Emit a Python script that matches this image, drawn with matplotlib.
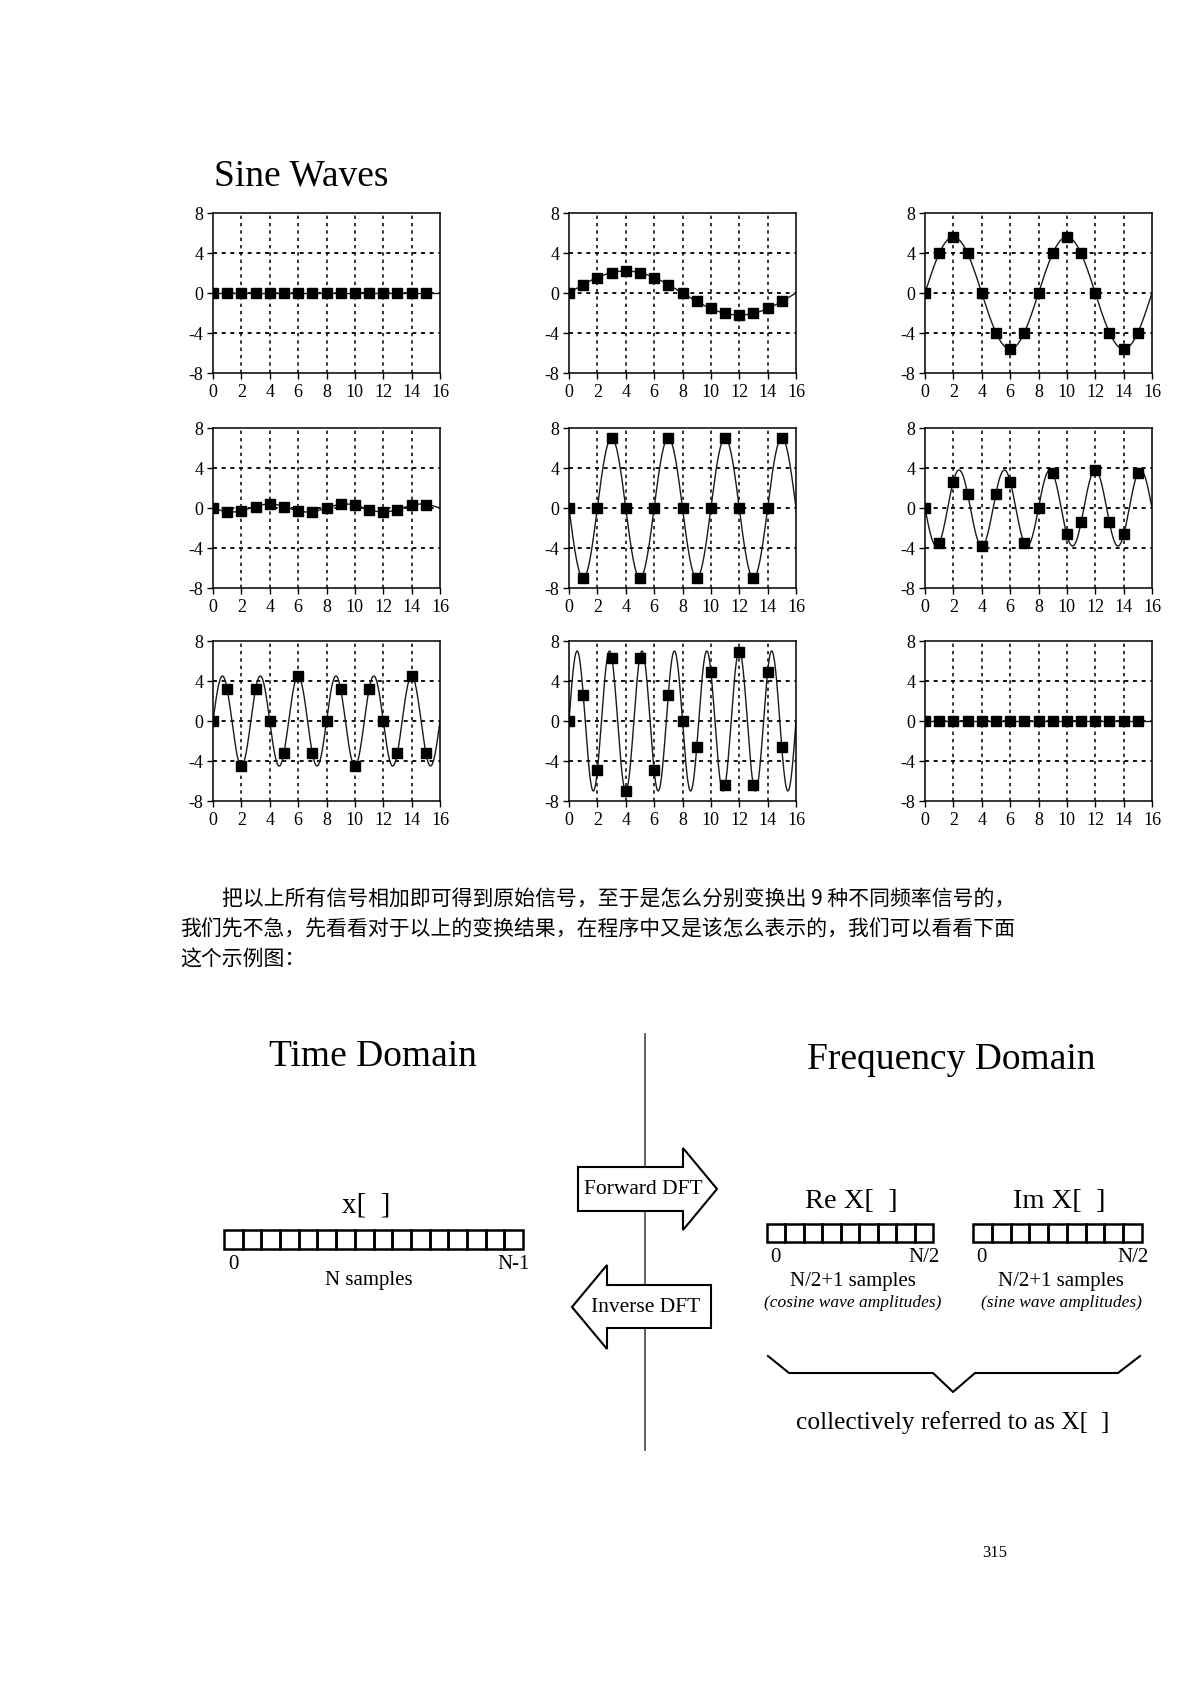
import matplotlib
matplotlib.use('Agg')

import matplotlib.pyplot as plt
import numpy as np
from matplotlib.patches import Rectangle, Polygon

# -------------------
# Data read from the page
# -------------------
n_idx = list(range(16))                      # sample index 0..15
cycles = [0, 1, 2, 3, 4, 5, 6, 7, 8]         # cycles per 16 samples in each panel
amps = [0, 2.2, 5.6, -0.4, -7.0, -3.8, 4.5, 7.0, 0]   # amplitude (sign = phase)

s1 = [0] * 16
s2 = [0, 0.8, 1.5, 2.0, 2.2, 2.0, 1.5, 0.8, 0, -0.8, -1.5, -2.0, -2.2, -2.0, -1.5, -0.8]
s3 = [0, 4.0, 5.6, 4.0, 0, -4.0, -5.6, -4.0, 0, 4.0, 5.6, 4.0, 0, -4.0, -5.6, -4.0]
s4 = [0, -0.4, -0.3, 0.1, 0.4, 0.1, -0.3, -0.4, 0, 0.4, 0.3, -0.2, -0.4, -0.2, 0.3, 0.3]
s5 = [0, -7.0, 0, 7.0, 0, -7.0, 0, 7.0, 0, -7.0, 0, 7.0, 0, -7.0, 0, 7.0]
s6 = [0, -3.5, 2.6, 1.4, -3.8, 1.4, 2.6, -3.5, 0, 3.5, -2.6, -1.4, 3.8, -1.4, -2.6, 3.5]
s7 = [0, 3.2, -4.5, 3.2, 0, -3.2, 4.5, -3.2, 0, 3.2, -4.5, 3.2, 0, -3.2, 4.5, -3.2]
s8 = [0, 2.6, -4.9, 6.3, -7.0, 6.3, -4.9, 2.6, 0, -2.6, 4.9, -6.4, 6.9, -6.4, 4.9, -2.6]
s9 = [0] * 16
samples = [s1, s2, s3, s4, s5, s6, s7, s8, s9]

xticks = [0, 2, 4, 6, 8, 10, 12, 14, 16]
yticks = [-8, -4, 0, 4, 8]

body_lines = [
    "把以上所有信号相加即可得到原始信号，至于是怎么分别变换出 9 种不同频率信号的，",
    "我们先不急，先看看对于以上的变换结果，在程序中又是该怎么表示的，我们可以看看下面",
    "这个示例图：",
]

n_time_cells = 16
n_freq_cells = 9

# -------------------
# Figure in pixel units
# -------------------
W, H = 1190, 1683
fig = plt.figure(figsize=(W / 100, H / 100), dpi=100)
fig.patch.set_facecolor('white')
SERIF = ['Liberation Serif', 'DejaVu Serif']


def px_axes(left, top, width, height):
    return fig.add_axes([left / W, 1 - (top + height) / H, width / W, height / H])


col_left = [213, 569, 925]
row_top = [214, 429, 642]
ax_w, ax_h = 227, 160

t_fine = np.linspace(0, 16, 800)
for i in range(9):
    r, c = divmod(i, 3)
    ax = px_axes(col_left[c], row_top[r], ax_w, ax_h)
    ax.set_xlim(0, 16)
    ax.set_ylim(-8, 8)
    for gx in xticks[1:-1]:
        ax.axvline(gx, color='black', lw=1.1, ls=(0, (2.2, 2.6)), zorder=1)
    for gy in yticks[1:-1]:
        ax.axhline(gy, color='black', lw=1.3, ls=(0, (2.2, 2.6)), zorder=1)
    curve = amps[i] * np.sin(2 * np.pi * cycles[i] * t_fine / 16)
    ax.plot(t_fine, curve, color='#1a1a1a', lw=1.0, zorder=2)
    ax.plot(n_idx, samples[i], ls='none', marker='s', ms=7.8,
            color='black', zorder=3)
    ax.set_xticks(xticks)
    ax.set_yticks(yticks)
    ax.set_xticklabels([str(v) for v in xticks], family=SERIF, fontsize=13)
    ax.set_yticklabels([str(v) for v in yticks], family=SERIF, fontsize=13)
    ax.tick_params(direction='out', length=4, width=1, pad=3)
    for sp in ax.spines.values():
        sp.set_linewidth(1.1)

# overlay in page pixels
ov = fig.add_axes([0, 0, 1, 1])
ov.set_xlim(0, W)
ov.set_ylim(H, 0)
ov.axis('off')

ov.text(214, 176, "Sine Waves", family=SERIF, fontsize=27, ha='left', va='center')

# body text
body_x = [222, 180, 180]
body_y = [900, 930, 959]
for x, y, line in zip(body_x, body_y, body_lines):
    ov.text(x, y, line, family=['Noto Sans CJK SC', 'DejaVu Sans'],
            fontsize=15, ha='left', va='center')

# divider
ov.plot([645, 645], [1035, 1451], color='#555555', lw=1.3)

ov.text(373, 1057, "Time Domain", family=SERIF, fontsize=27, ha='center', va='center')
ov.text(951, 1060, "Frequency Domain", family=SERIF, fontsize=27, ha='center', va='center')


def cell_row(left, right, top, bottom, n):
    w = (right - left) / n
    for k in range(n):
        ov.add_patch(Rectangle((left + k * w, top), w, bottom - top,
                               fill=False, ec='black', lw=1.8))


# time domain array
cell_row(224, 523, 1231, 1250, n_time_cells)
ov.text(366, 1206, "x[  ]", family=SERIF, fontsize=21, ha='center', va='center')
ov.text(228, 1265, "0", family=SERIF, fontsize=15, ha='left', va='center')
ov.text(530, 1265, "N-1", family=SERIF, fontsize=15, ha='right', va='center')
ov.text(369, 1281, "N samples", family=SERIF, fontsize=15, ha='center', va='center')

# frequency domain arrays
for left, right, cx, name, sub in [
        (767, 933, 851, "Re X[  ]", "(cosine wave amplitudes)"),
        (973, 1142, 1059, "Im X[  ]", "(sine wave amplitudes)")]:
    cell_row(left, right, 1225, 1243, n_freq_cells)
    ov.text(cx, 1202, name, family=SERIF, fontsize=20.5, ha='center', va='center')
    ov.text(left + 3, 1258, "0", family=SERIF, fontsize=15, ha='left', va='center')
    ov.text(right + 7, 1258, "N/2", family=SERIF, fontsize=15, ha='right', va='center')
    ov.text(cx + 2, 1282, "N/2+1 samples", family=SERIF, fontsize=15,
            ha='center', va='center')
    ov.text(cx + 2, 1303, sub, family=SERIF, fontsize=12.5, style='italic',
            ha='center', va='center')

# arrows
fwd = [(578, 1168), (683, 1168), (683, 1149), (717, 1190), (683, 1231),
       (683, 1212), (578, 1212)]
inv = [(711, 1286), (607, 1286), (607, 1266), (572, 1308), (607, 1350),
       (607, 1329), (711, 1329)]
for pts in (fwd, inv):
    ov.add_patch(Polygon(pts, closed=True, fc='white', ec='black', lw=1.5, zorder=4))
ov.text(643, 1190, "Forward DFT", family=SERIF, fontsize=15.5, ha='center',
        va='center', zorder=5)
ov.text(646, 1308, "Inverse DFT", family=SERIF, fontsize=15.5, ha='center',
        va='center', zorder=5)

# brace
brace = [(768, 1357), (789, 1374), (933, 1374), (953, 1393), (975, 1374),
         (1118, 1374), (1140, 1357)]
ov.plot([p[0] for p in brace], [p[1] for p in brace], color='black', lw=1.5)
ov.text(953, 1423, "collectively referred to as X[  ]", family=SERIF,
        fontsize=18.3, ha='center', va='center')

ov.text(995, 1553, "315", family=SERIF, fontsize=12, ha='center', va='center')

fig.savefig("out.png", dpi=100, facecolor='white')
